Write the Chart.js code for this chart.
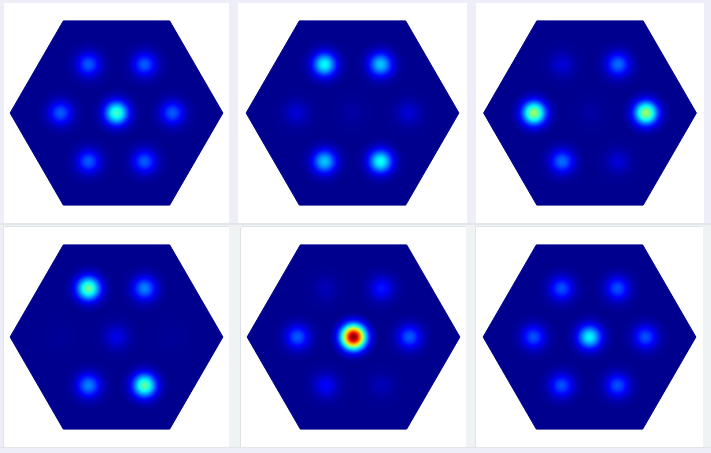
<!DOCTYPE html>
<html>
<head>
<meta charset="utf-8">
<script src="https://cdn.jsdelivr.net/npm/chart.js@4.4.1/dist/chart.umd.min.js"></script>
<style>
  html, body { margin: 0; padding: 0; }
  body { width: 711px; height: 453px; background: #eeeef9; position: relative; overflow: hidden; }
  .panel { position: absolute; background: #fff; box-sizing: border-box; }
  .panel canvas { display: block; }
  .row2 { box-shadow: -1px 0 0 #dfe3e8, 0 -1px 0 #dfe3e8; }
  .hline { position: absolute; left: 0; width: 711px; height: 2px; background: #e2e5ea; }
  .strip { position: absolute; background: #f0f3f4; }
</style>
</head>
<body>
<div class="strip" style="left:0;top:224px;width:711px;height:3px"></div>
<div class="strip" style="left:229px;top:224px;width:12px;height:223px"></div>
<div class="strip" style="left:466px;top:224px;width:10px;height:223px"></div>
<div class="strip" style="left:703px;top:224px;width:8px;height:223px"></div>
<div class="hline" style="top:223px"></div>
<div class="hline" style="top:447px;height:1px"></div>
<div id="panels"></div>
<script>
// lattice positions of the seven spots (units = spot spacing)
const spotX = [0, 1, 0.5, -0.5, -1, -0.5, 0.5];
const spotY = [0, 0, 0.866, 0.866, 0, -0.866, -0.866];

// hexagon outline, upper and lower boundary
const hexX = [-1.9, -0.95, 0.95, 1.9];
const hexTop = [0, 1.645, 1.645, 0];
const hexBottom = [0, -1.645, -1.645, 0];

// spot intensities per panel (0..1 on jet scale), order as spotX/spotY
const panel1 = [0.43, 0.2, 0.2, 0.2, 0.2, 0.2, 0.2];
const panel2 = [0.02, 0.07, 0.31, 0.37, 0.07, 0.31, 0.38];
const panel3 = [0.02, 0.52, 0.22, 0.07, 0.52, 0.22, 0.07];
const panel4 = [0.09, 0.01, 0.24, 0.47, 0.01, 0.24, 0.46];
const panel5 = [1.0, 0.2, 0.13, 0.04, 0.2, 0.11, 0.04];
const panel6 = [0.36, 0.19, 0.19, 0.19, 0.19, 0.19, 0.19];

const panels = [
  { vals: panel1, left: 4, top: 3, w: 225, h: 220 },
  { vals: panel2, left: 238, top: 3, w: 229, h: 220 },
  { vals: panel3, left: 476, top: 3, w: 228, h: 220 },
  { vals: panel4, left: 4, top: 227, w: 225, h: 220, row2: true },
  { vals: panel5, left: 241, top: 227, w: 225, h: 220, row2: true },
  { vals: panel6, left: 476, top: 227, w: 227, h: 220, row2: true },
];

const PX_PER_UNIT = 56;
const SIGMA = 8.3;
const GLOW = 3 * SIGMA;

function jet(v) {
  const t = 0.0156 + 0.984 * Math.max(0, Math.min(1, v));
  const c = (d) => Math.round(255 * Math.max(0, Math.min(1, 1.5 - Math.abs(d))));
  return `rgb(${c(4 * t - 3)},${c(4 * t - 2)},${c(4 * t - 1)})`;
}
const BASE = jet(0);

function spotFill(context) {
  if (context.type !== "data" || !context.raw) return BASE;
  const chart = context.chart;
  const px = chart.scales.x.getPixelForValue(context.raw.x);
  const py = chart.scales.y.getPixelForValue(context.raw.y);
  if (!isFinite(px) || !isFinite(py)) return BASE;
  const g = chart.ctx.createRadialGradient(px, py, 0, px, py, GLOW);
  const a = context.raw.v;
  for (let i = 0; i <= 14; i++) {
    const t = i / 14;
    const v = i === 14 ? 0 : a * Math.exp(-4.5 * t * t);
    g.addColorStop(t, jet(v));
  }
  return g;
}

const holder = document.getElementById("panels");
panels.forEach((p) => {
  const div = document.createElement("div");
  div.className = "panel" + (p.row2 ? " row2" : "");
  div.style.left = p.left + "px";
  div.style.top = p.top + "px";
  div.style.width = p.w + "px";
  div.style.height = p.h + "px";
  const canvas = document.createElement("canvas");
  canvas.width = p.w;
  canvas.height = p.h;
  div.appendChild(canvas);
  holder.appendChild(div);

  const xHalf = p.w / 2 / PX_PER_UNIT;
  const yHalf = p.h / 2 / PX_PER_UNIT;

  new Chart(canvas, {
    type: "scatter",
    data: {
      datasets: [
        {
          order: 0,
          data: spotX.map((x, i) => ({ x: x, y: spotY[i], v: p.vals[i] })),
          pointRadius: GLOW,
          pointBorderWidth: 0,
          pointBackgroundColor: spotFill,
          showLine: false,
        },
        {
          order: 1,
          type: "line",
          data: hexX.map((x, i) => ({ x: x, y: hexTop[i] })),
          borderColor: BASE,
          borderWidth: 1,
          backgroundColor: BASE,
          pointRadius: 0,
          tension: 0,
          fill: "+1",
        },
        {
          order: 2,
          type: "line",
          data: hexX.map((x, i) => ({ x: x, y: hexBottom[i] })),
          borderColor: BASE,
          borderWidth: 1,
          pointRadius: 0,
          tension: 0,
          fill: false,
        },
      ],
    },
    options: {
      responsive: false,
      devicePixelRatio: 1,
      animation: false,
      events: [],
      layout: { padding: 0, autoPadding: false },
      plugins: { legend: { display: false }, tooltip: { enabled: false } },
      scales: {
        x: { type: "linear", min: -xHalf, max: xHalf, bounds: "data", display: false },
        y: { type: "linear", min: -yHalf, max: yHalf, bounds: "data", display: false },
      },
    },
  });
});
</script>
</body>
</html>
